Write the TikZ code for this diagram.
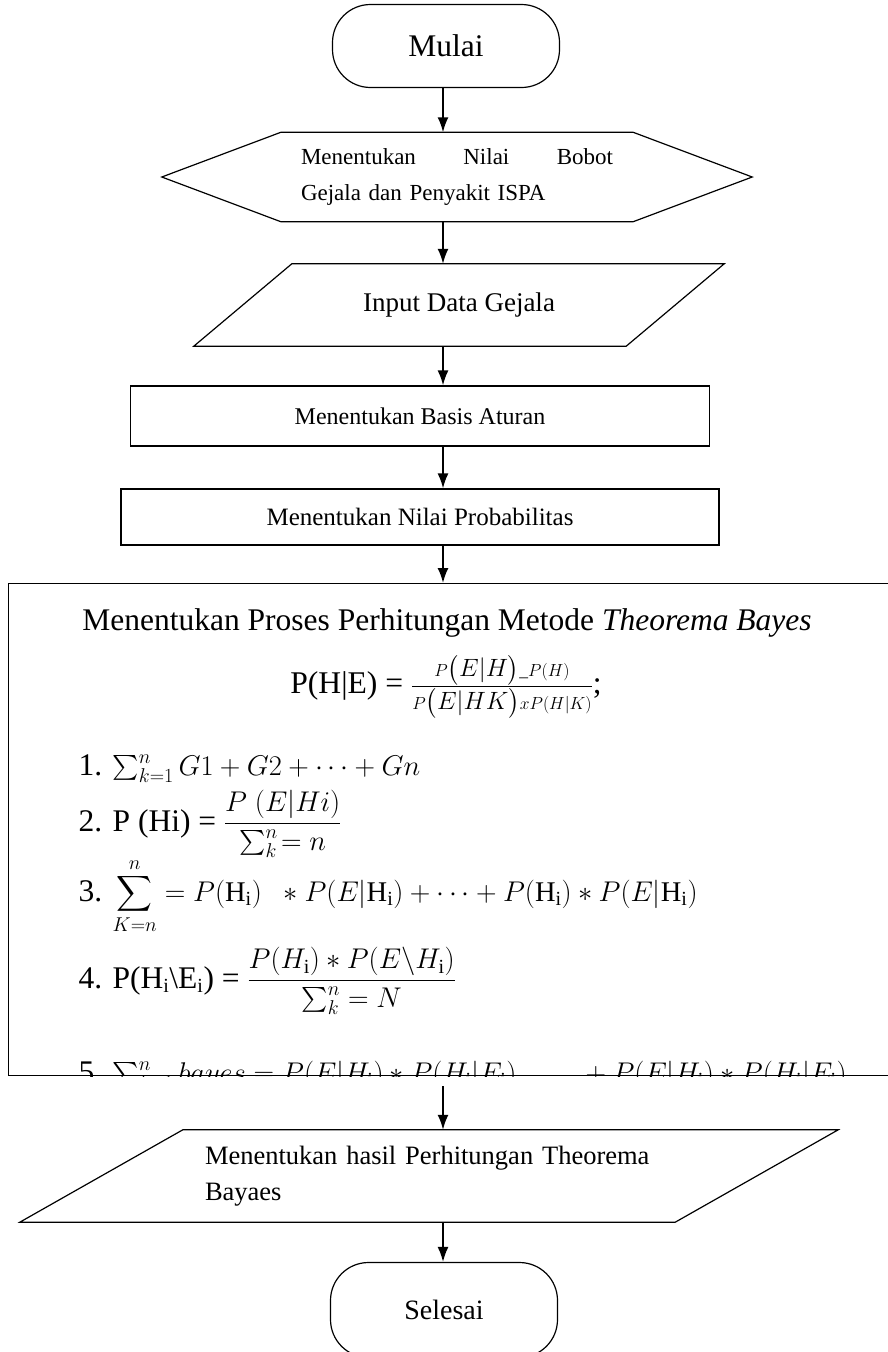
\RequirePackage{fix-cm}
\documentclass[tikz,border=0pt]{standalone}
\usepackage{fontspec}
\setmainfont{Liberation Serif}
\usepackage{amsmath}
\DeclareMathSizes{31.5}{28.5}{20}{15}
\DeclareMathSizes{31.6}{25}{17.5}{12.5}
\usetikzlibrary{arrows.meta, positioning, calc}

\begin{document}
\begin{tikzpicture}[
        x=1pt, y=-1pt,
        >={Latex[length=15pt, width=11pt]},
        font=\fontsize{31.5}{38}\selectfont,
        outline/.style={draw=black, line width=1.2pt},
        term/.style={outline, rectangle, rounded corners=38pt,
            minimum width=227pt, minimum height=83pt, inner sep=0pt},
        proc/.style={outline, rectangle, inner sep=0pt},
        holder/.style={inner sep=0pt},
        size/.style={font=\fontsize{#1}{36}\selectfont},
        arrow/.style={->, line width=1.8pt}
    ]
    \useasboundingbox (0,0) rectangle (888,1352);
    \clip (0,0) rectangle (888,1352);
    \coordinate (axis) at (443,0);

    % --- Nodes ---
    \node[term] (mulai) at (446,46) {Mulai};

    \node[holder, size=23, minimum width=590pt, minimum height=89pt,
        text width=312pt, align=left] (bobot) at (457,177)
        {Menentukan\hfill Nilai\hfill Bobot\\Gejala dan Penyakit ISPA};
    \draw[outline] (bobot.west) -- ($(bobot.north west)+(119,0)$)
        -- ($(bobot.north east)+(-119,0)$) -- (bobot.east)
        -- ($(bobot.south east)+(-119,0)$) -- ($(bobot.south west)+(119,0)$) -- cycle;

    \node[holder, size=27, minimum width=530pt, minimum height=82pt] (input) at (459,305) {Input Data Gejala};
    \draw[outline] ($(input.north west)+(98,0)$) -- (input.north east)
        -- ($(input.south east)+(-98,0)$) -- (input.south west) -- cycle;

    \node[proc, size=24, minimum width=579pt, minimum height=60pt] (basis) at (420,416) {Menentukan Basis Aturan};
    \node[proc, size=25, minimum width=598pt, minimum height=56pt] (nilai) at (420,517) {Menentukan Nilai Probabilitas};

    \node[proc, anchor=north west, minimum width=900pt, minimum height=492pt] (bayes) at (8,583) {};

    % --- Bayes steps (cut by the box) ---
    \begin{scope}
        \clip (bayes.north west) rectangle (bayes.south east);
        \node[anchor=base] (judul) at (447,630)
            {Menentukan Proses Perhitungan Metode \textit{Theorema Bayes}};
        \node[anchor=base, size=31.6] (rumus) at (446,693)
            {P(H|E) = $\frac{P\bigl(\textstyle E|H\bigr)\scriptstyle\_P(H)}{P\bigl(\textstyle E|HK\bigr)\scriptstyle xP(H|K)}$;};
        \node[anchor=base west] (langkah1) at (75,775)
            {1. $\sum_{k=1}^{n} G1 + G2 + \cdots + Gn$};
        \node[anchor=base west] (langkah2) at (75,831)
            {2. P (Hi) = $\dfrac{P\ (E|Hi)}{\sum_{k}^{n}\!=n}$};
        \node[anchor=base west] (langkah3) at (75,901)
            {3. $\displaystyle\sum_{K=n}^{n} = P(\mathrm{H_i})\ \ * P(E|\mathrm{H_i}) + \cdots + P(\mathrm{H_i}) * P(E|\mathrm{H_i})$};
        \node[anchor=base west] (langkah4) at (75,988)
            {4. P(H\textsubscript{i}\textbackslash E\textsubscript{i}) = $\dfrac{P(H_{\mathrm{i}}) *P(E\backslash H_{\mathrm{i}})}{\sum_{k}^{n} = N}$};
        \node[anchor=base west] (langkah5) at (75,1082)
            {5. $\sum_{k=1}^{n} bayes = P(E|H_{\mathrm{i}}) * P(H_{\mathrm{i}}|E_{\mathrm{i}})\qquad + P(E|H_{\mathrm{i}}) * P(H_{\mathrm{i}}|E_{\mathrm{i}})$};
    \end{scope}

    \node[holder, size=26.5, minimum width=818pt, minimum height=92pt, inner xsep=185pt,
        text width=448pt, align=left] (hasil) at (429,1176)
        {Menentukan hasil Perhitungan Theorema\\Bayaes};
    \draw[outline] ($(hasil.north west)+(163,0)$) -- (hasil.north east)
        -- ($(hasil.south east)+(-163,0)$) -- (hasil.south west) -- cycle;

    \node[term, size=28, minimum height=95pt] (selesai) at (444,1310) {Selesai};

    % --- Connections ---
    \draw[arrow] (axis |- mulai.south) -- (axis |- bobot.north);
    \draw[arrow] (axis |- bobot.south) -- (axis |- input.north);
    \draw[arrow] (axis |- input.south) -- (axis |- basis.north);
    \draw[arrow] (axis |- basis.south) -- (axis |- nilai.north);
    \draw[arrow] (axis |- nilai.south) -- (axis |- bayes.north);
    \draw[arrow, shorten <=10pt] (axis |- bayes.south) -- (axis |- hasil.north);
    \draw[arrow] (axis |- hasil.south) -- (axis |- selesai.north);

\end{tikzpicture}
\end{document}
